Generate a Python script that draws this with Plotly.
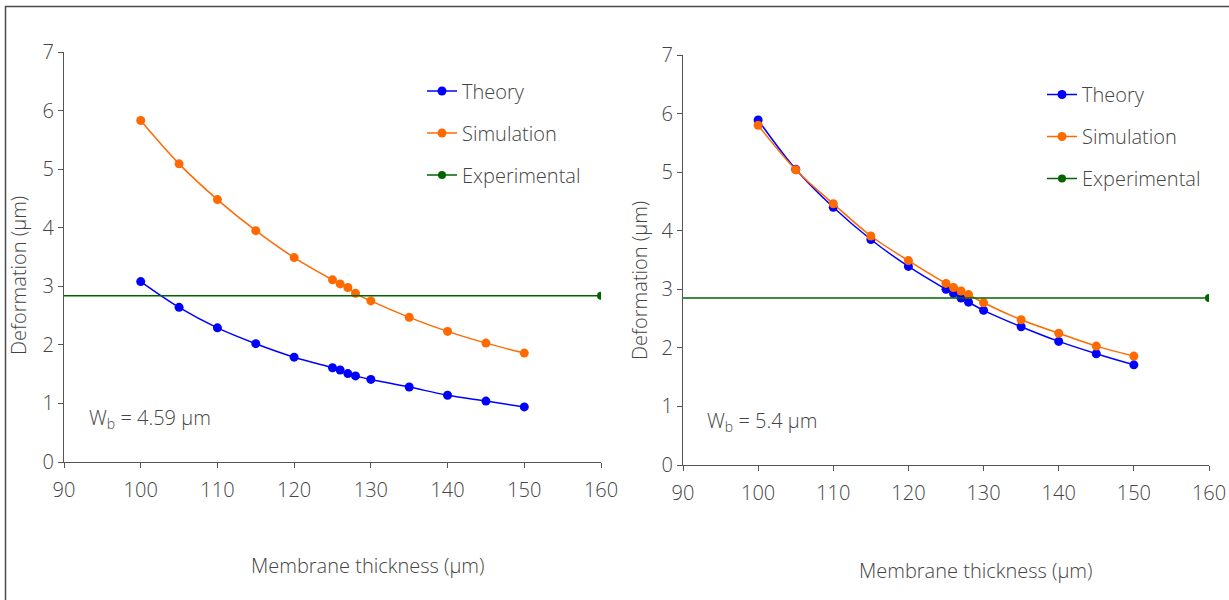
import plotly.graph_objects as go

W, H = 1229, 600

thickness = [100, 105, 110, 115, 120, 125, 126, 127, 128, 130, 135, 140, 145, 150]

theory_a = [3.08, 2.64, 2.29, 2.02, 1.79, 1.61, 1.57, 1.51, 1.47, 1.41, 1.28, 1.14, 1.04, 0.94]
sim_a = [5.83, 5.09, 4.48, 3.95, 3.49, 3.11, 3.04, 2.98, 2.88, 2.75, 2.47, 2.23, 2.03, 1.86]
exp_a = 2.84

theory_b = [5.89, 5.05, 4.40, 3.85, 3.39, 3.00, 2.93, 2.85, 2.78, 2.64, 2.36, 2.11, 1.90, 1.71]
sim_b = [5.80, 5.04, 4.46, 3.91, 3.49, 3.10, 3.03, 2.97, 2.91, 2.77, 2.48, 2.25, 2.03, 1.86]
exp_b = 2.85

x_range = [90, 160]
exp_x = [90, 160]
wb_a = "W<sub>b</sub> = 4.59 µm"
wb_b = "W<sub>b</sub> = 5.4 µm"

BLUE = "#0000ff"
ORANGE = "#ff6a00"
GREEN = "#006400"
TXT = "#444444"
AX = "#555555"
FONT = "Open Sans"


def px(x):
    return x / W


def py(y):
    return 1 - y / H


fig = go.Figure()

panels = [
    ("x", "y", "legend", theory_a, sim_a, exp_a),
    ("x2", "y2", "legend2", theory_b, sim_b, exp_b),
]
for xa, ya, lg, th, sm, ex in panels:
    fig.add_trace(go.Scatter(x=thickness, y=th, mode="lines+markers", name="Theory",
                             line=dict(color=BLUE, width=1.5, shape="spline"),
                             marker=dict(color=BLUE, size=9), xaxis=xa, yaxis=ya,
                             legend=lg, legendgroup="t" + xa))
    fig.add_trace(go.Scatter(x=thickness, y=sm, mode="lines+markers", name="Simulation",
                             line=dict(color=ORANGE, width=1.5, shape="spline"),
                             marker=dict(color=ORANGE, size=9), xaxis=xa, yaxis=ya,
                             legend=lg, legendgroup="s" + xa))
    fig.add_trace(go.Scatter(x=exp_x, y=[ex, ex], mode="lines", showlegend=False,
                             line=dict(color=GREEN, width=1.5), xaxis=xa, yaxis=ya,
                             hoverinfo="skip"))
    fig.add_trace(go.Scatter(x=[exp_x[1]], y=[ex], mode="lines+markers", name="Experimental",
                             line=dict(color=GREEN, width=1.5),
                             marker=dict(color=GREEN, size=8), xaxis=xa, yaxis=ya,
                             legend=lg, legendgroup="e" + xa))

axis_common = dict(showgrid=False, zeroline=False, showline=True, linecolor=AX, linewidth=1.3,
                   ticks="outside", ticklen=5, tickcolor=AX, tickwidth=1.3, automargin=False,
                   tickfont=dict(family=FONT, size=20, color=TXT, weight=300), fixedrange=True)

leg_common = dict(xanchor="left", yanchor="top", bgcolor="rgba(0,0,0,0)",
                  font=dict(family=FONT, size=20, color=TXT, weight=300), tracegroupgap=13,
                  traceorder="grouped", itemwidth=30)

fig.update_layout(
    width=W, height=H,
    margin=dict(l=0, r=0, t=0, b=0, autoexpand=False),
    paper_bgcolor="white", plot_bgcolor="white",
    font=dict(family=FONT, color=TXT),
    xaxis=dict(domain=[px(64), px(601)], range=x_range, dtick=10, anchor="y",
               ticklabelstandoff=5, **axis_common),
    yaxis=dict(domain=[py(462), py(52)], range=[0, 7], dtick=1, anchor="x", **axis_common),
    xaxis2=dict(domain=[px(683), px(1209)], range=x_range, dtick=10, anchor="y2",
                ticklabelstandoff=5, **axis_common),
    yaxis2=dict(domain=[py(465), py(55)], range=[0, 7], dtick=1, anchor="x2", **axis_common),
    legend=dict(x=px(422), y=py(71.5), **leg_common),
    legend2=dict(x=px(1042), y=py(75), **leg_common),
    showlegend=True,
)

ann_font = dict(family=FONT, size=20, color=TXT, weight=300)
anns = [
    dict(text="Deformation (µm)", x=px(18), y=py(276), textangle=-90),
    dict(text="Deformation (µm)", x=px(640), y=py(281), textangle=-90),
    dict(text="Membrane thickness (µm)", x=px(367), y=py(565)),
    dict(text="Membrane thickness (µm)", x=px(975), y=py(570)),
]
for a in anns:
    fig.add_annotation(xref="paper", yref="paper", showarrow=False, font=ann_font,
                       xanchor="center", yanchor="middle", **a)
fig.add_annotation(xref="paper", yref="paper", showarrow=False, x=px(87), y=py(418),
                   xanchor="left", yanchor="middle", text=wb_a, font=ann_font)
fig.add_annotation(xref="paper", yref="paper", showarrow=False, x=px(705), y=py(421),
                   xanchor="left", yanchor="middle", text=wb_b, font=ann_font)

fig.add_shape(type="rect", xref="paper", yref="paper", x0=px(5.5), y0=py(640), x1=px(1260),
              y1=py(6.5), line=dict(color="#4a4a4a", width=1.5), layer="below")

fig.write_html("out.html")
